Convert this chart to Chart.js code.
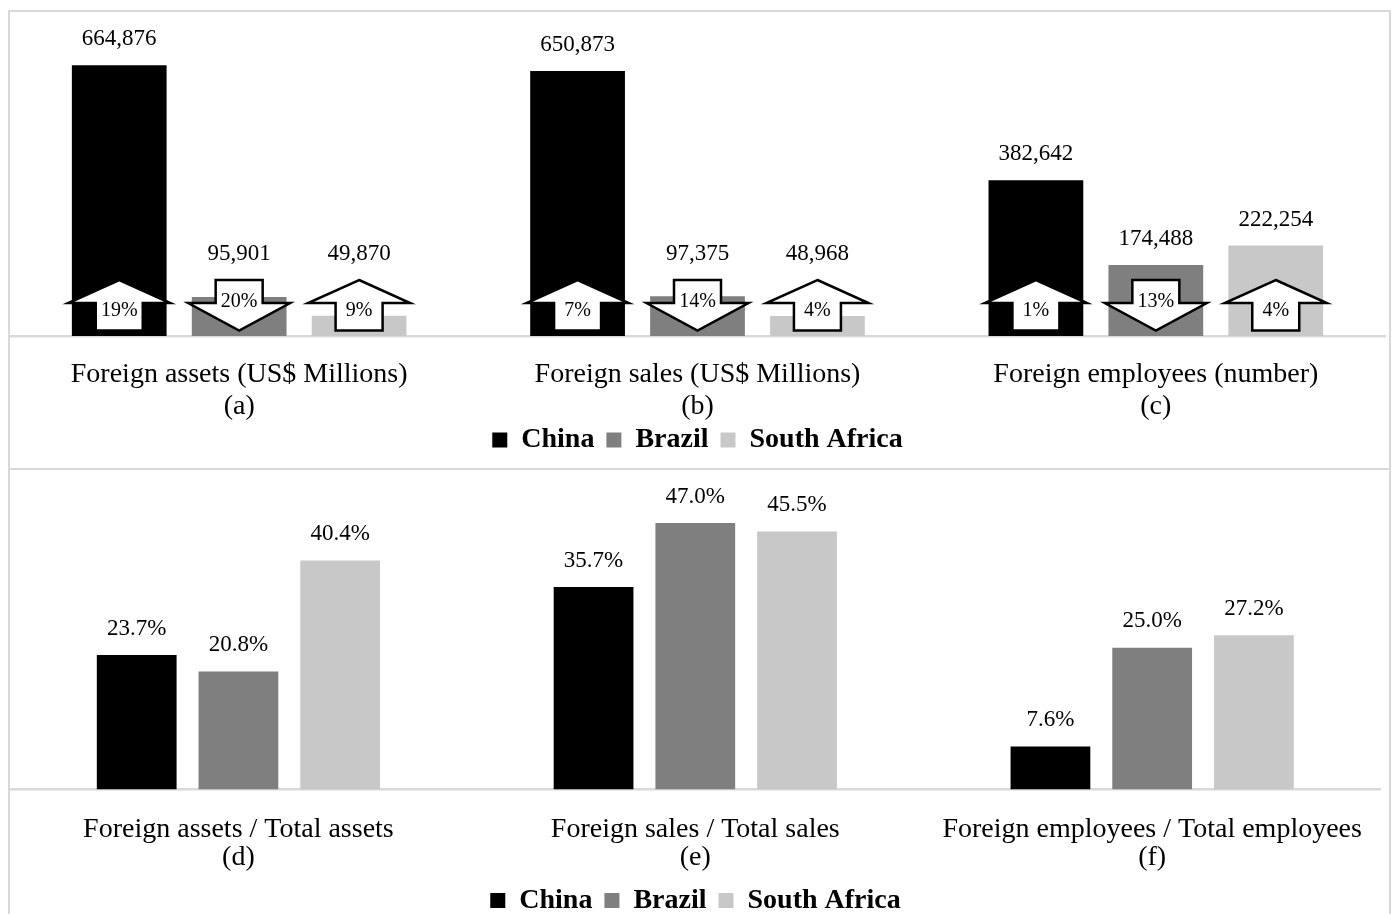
<!DOCTYPE html>
<html>
<head>
<meta charset="utf-8">
<script src="https://cdn.jsdelivr.net/npm/chart.js@4.4.1/dist/chart.umd.min.js"></script>
<style>
  html, body { margin: 0; padding: 0; background: #fff; overflow: hidden; }
  .panel { position: absolute; left: 8px; width: 1383px; border: 2px solid #d9d9d9; box-sizing: border-box; overflow: hidden; }
  #panelTop { top: 10px; height: 460px; }
  #panelBottom { top: 470px; height: 460px; border-top: none; }
  canvas { display: block; }
</style>
</head>
<body>
<div class="panel" id="panelTop"><canvas id="chartTop" width="1379" height="486"></canvas></div>
<div class="panel" id="panelBottom"><canvas id="chartBottom" width="1379" height="480"></canvas></div>
<script>
// Data
const categoriesTop = [
    ['Foreign assets (US$ Millions)', '(a)'],
    ['Foreign sales (US$ Millions)', '(b)'],
    ['Foreign employees (number)', '(c)']
];
const chinaTop = [664876, 650873, 382642];
const brazilTop = [95901, 97375, 174488];
const southAfricaTop = [49870, 48968, 222254];

// change arrows (percent, negative = down)
const chinaChange = [19, 7, 1];
const brazilChange = [-20, -14, -13];
const southAfricaChange = [9, 4, 4];

const categoriesBottom = [
    ['Foreign assets / Total assets', '(d)'],
    ['Foreign sales / Total sales', '(e)'],
    ['Foreign employees / Total employees', '(f)']
];
const chinaShare = [23.7, 35.7, 7.6];
const brazilShare = [20.8, 47.0, 25.0];
const southAfricaShare = [40.4, 45.5, 27.2];

const seriesNames = ['China', 'Brazil', 'South Africa'];
const colors = ['#000000', '#7f7f7f', '#c8c8c8'];
const serif = "'Liberation Serif', 'Times New Roman', serif";

Chart.defaults.font.family = serif;
Chart.defaults.color = '#000';

// value labels above bars
function makeValueLabels(format, offset, arrowTop) {
    return {
        id: 'valueLabels',
        afterDatasetsDraw(chart) {
            const ctx = chart.ctx;
            ctx.save();
            ctx.font = '23px ' + serif;
            ctx.fillStyle = '#000';
            ctx.textAlign = 'center';
            ctx.textBaseline = 'alphabetic';
            chart.data.datasets.forEach((ds, i) => {
                chart.getDatasetMeta(i).data.forEach((bar, j) => {
                    let top = bar.y;
                    if (arrowTop) top = Math.min(top, bar.base - arrowTop);
                    ctx.fillText(format(ds.data[j]), bar.x, top - offset);
                });
            });
            ctx.restore();
        }
    };
}

// up / down arrows sitting on the bars
function makeArrows(changes) {
    return {
        id: 'changeArrows',
        afterDatasetsDraw(chart) {
            const ctx = chart.ctx;
            ctx.save();
            changes.forEach((list, i) => {
                chart.getDatasetMeta(i).data.forEach((bar, j) => {
                    const v = list[j];
                    const up = v >= 0;
                    const x = bar.x, b = bar.base;
                    const yTop = b - 56, yHead = b - 33, yBot = b - 5.5;
                    const hw = 51, sw = 23.5;
                    ctx.beginPath();
                    if (up) {
                        ctx.moveTo(x, yTop);
                        ctx.lineTo(x + hw, yHead);
                        ctx.lineTo(x + sw, yHead);
                        ctx.lineTo(x + sw, yBot);
                        ctx.lineTo(x - sw, yBot);
                        ctx.lineTo(x - sw, yHead);
                        ctx.lineTo(x - hw, yHead);
                    } else {
                        ctx.moveTo(x - sw, yTop);
                        ctx.lineTo(x + sw, yTop);
                        ctx.lineTo(x + sw, yHead);
                        ctx.lineTo(x + hw, yHead);
                        ctx.lineTo(x, yBot);
                        ctx.lineTo(x - hw, yHead);
                        ctx.lineTo(x - sw, yHead);
                    }
                    ctx.closePath();
                    ctx.fillStyle = '#fff';
                    ctx.fill();
                    ctx.lineWidth = 2.5;
                    ctx.strokeStyle = '#000';
                    ctx.stroke();
                    ctx.font = '20px ' + serif;
                    ctx.fillStyle = '#000';
                    ctx.textAlign = 'center';
                    ctx.textBaseline = 'middle';
                    ctx.fillText(Math.abs(v) + '%', x, up ? b - 25 : b - 34);
                });
            });
            ctx.restore();
        }
    };
}

// pull the legend up closer to the axis labels (legend padding also sets item spacing)
function makeLegendShift(dy) {
    return {
        id: 'legendShift',
        afterLayout(chart) {
            chart.legend.top += dy;
            chart.legend.bottom += dy;
        }
    };
}

function buildDatasets(lists, catPct, barPct) {
    return lists.map((data, i) => ({
        label: seriesNames[i],
        data: data,
        backgroundColor: colors[i],
        borderWidth: 0,
        categoryPercentage: catPct,
        barPercentage: barPct
    }));
}

function buildOptions(cfg) {
    return {
        responsive: false,
        animation: false,
        layout: { padding: { top: cfg.padTop, bottom: cfg.padBottom, left: 0, right: cfg.padRight } },
        plugins: {
            tooltip: { enabled: false },
            legend: {
                position: 'bottom',
                labels: {
                    boxWidth: 15,
                    boxHeight: 15,
                    padding: 12,
                    color: '#000',
                    font: { size: 28, weight: 'bold', family: serif }
                }
            }
        },
        scales: {
            x: {
                grid: { display: false, drawTicks: false },
                border: { display: true, color: '#d9d9d9', width: 2.5 },
                ticks: {
                    color: '#000',
                    padding: cfg.tickPad,
                    autoSkip: false,
                    maxRotation: 0,
                    font: { size: 28, family: serif, lineHeight: cfg.lineHeight }
                }
            },
            y: {
                display: false,
                min: 0,
                max: cfg.yMax
            }
        }
    };
}

// Top chart: absolute values
new Chart(document.getElementById('chartTop').getContext('2d'), {
    type: 'bar',
    data: {
        labels: categoriesTop,
        datasets: buildDatasets([chinaTop, brazilTop, southAfricaTop], 0.785, 0.79)
    },
    options: buildOptions({
        padTop: 39, padBottom: 2, padRight: 4,
        tickPad: 23, lineHeight: '32px', yMax: 700000
    }),
    plugins: [
        makeArrows([chinaChange, brazilChange, southAfricaChange]),
        makeValueLabels(v => v.toLocaleString('en-US'), 20, 56),
        makeLegendShift(-32)
    ]
});

// Bottom chart: shares of total
new Chart(document.getElementById('chartBottom').getContext('2d'), {
    type: 'bar',
    data: {
        labels: categoriesBottom,
        datasets: buildDatasets([chinaShare, brazilShare, southAfricaShare], 0.668, 0.784)
    },
    options: buildOptions({
        padTop: 36, padBottom: 2, padRight: 8,
        tickPad: 25.75, lineHeight: '28.5px', yMax: 50
    }),
    plugins: [
        makeValueLabels(v => v.toFixed(1) + '%', 20.5, 0),
        makeLegendShift(-23.5)
    ]
});
</script>
</body>
</html>
